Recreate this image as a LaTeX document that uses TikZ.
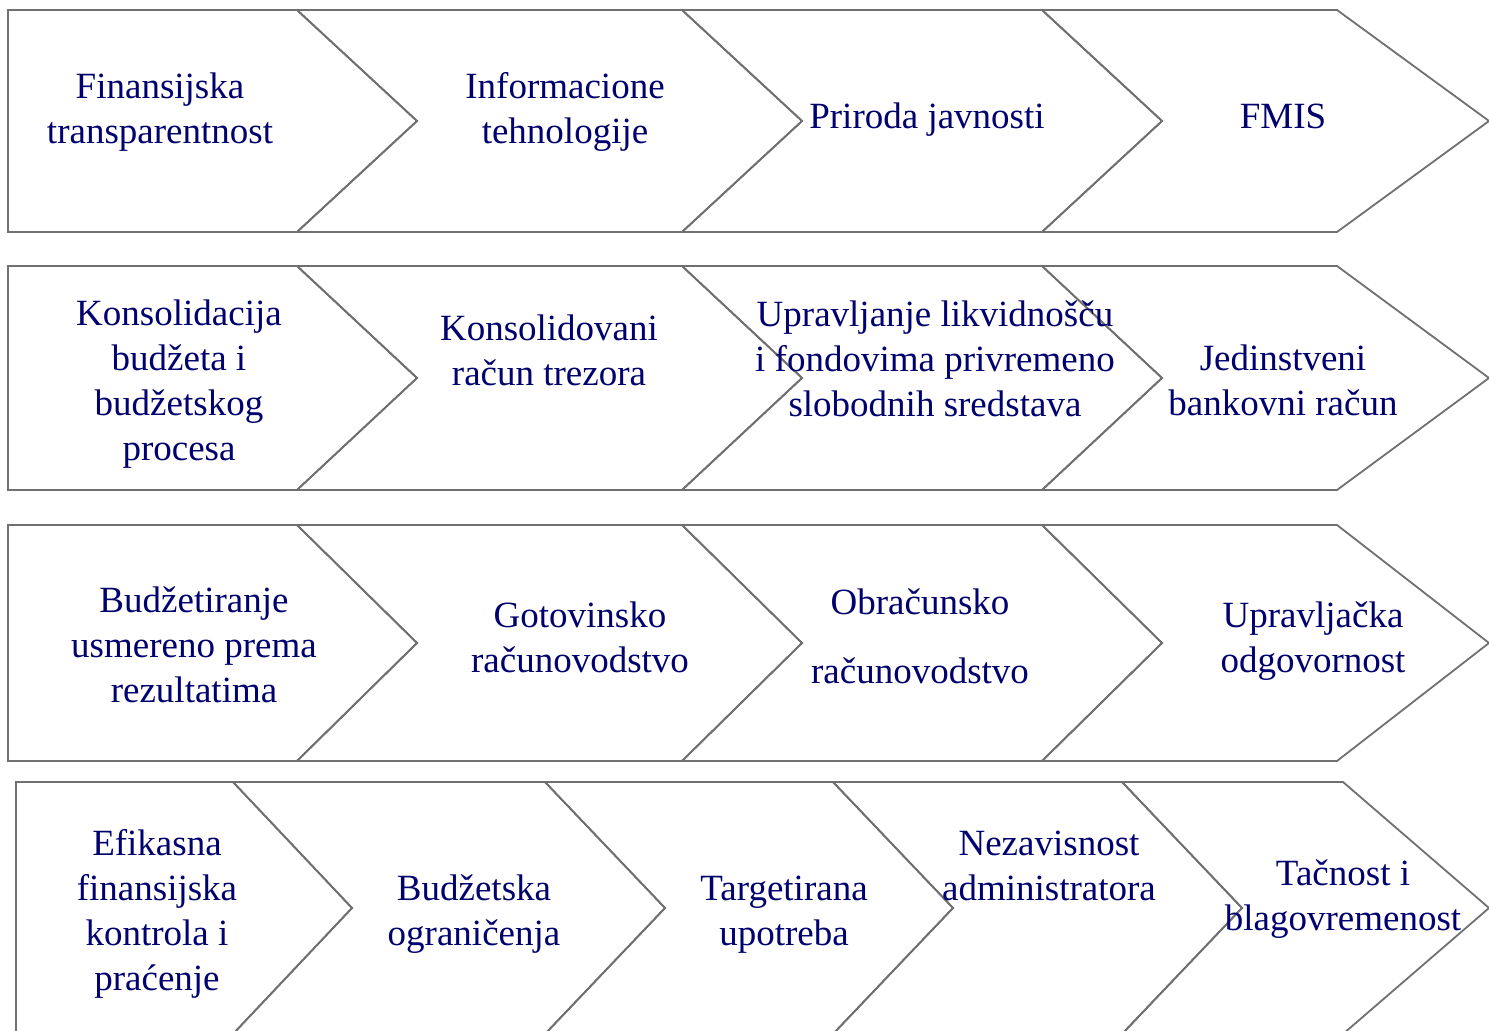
\documentclass[tikz,border=0pt]{standalone}
\usepackage{fontspec}
\setmainfont{Liberation Serif}
\definecolor{navy}{RGB}{0,0,110}
\definecolor{linegray}{RGB}{112,112,112}
\tikzset{
  chev/.style={draw=linegray,line width=0.9pt,line join=miter},
  lbl/.style={text=navy,align=center,anchor=base,inner sep=0pt,
    font=\fontsize{18.5}{22.5}\selectfont}
}
\begin{document}
\begin{tikzpicture}[x=0.5pt,y=-0.5pt]
      \useasboundingbox (0,0) rectangle (1489,1031);

      \draw[chev] (8,10) -- (297,10) -- (417,121) -- (297,232) -- (8,232) -- cycle;
      \draw[chev] (297,10) -- (682,10) -- (802,121) -- (682,232) -- (297,232) -- (417,121) -- cycle;
      \draw[chev] (682,10) -- (1042,10) -- (1162,121) -- (1042,232) -- (682,232) -- (802,121) -- cycle;
      \draw[chev] (1042,10) -- (1337,10) -- (1489,121) -- (1337,232) -- (1042,232) -- (1162,121) -- cycle;

      \draw[chev] (8,266) -- (297,266) -- (417,378) -- (297,490) -- (8,490) -- cycle;
      \draw[chev] (297,266) -- (682,266) -- (802,378) -- (682,490) -- (297,490) -- (417,378) -- cycle;
      \draw[chev] (682,266) -- (1042,266) -- (1162,378) -- (1042,490) -- (682,490) -- (802,378) -- cycle;
      \draw[chev] (1042,266) -- (1337,266) -- (1489,378) -- (1337,490) -- (1042,490) -- (1162,378) -- cycle;

      \draw[chev] (8,525) -- (297,525) -- (417,643) -- (297,761) -- (8,761) -- cycle;
      \draw[chev] (297,525) -- (682,525) -- (802,643) -- (682,761) -- (297,761) -- (417,643) -- cycle;
      \draw[chev] (682,525) -- (1042,525) -- (1162,643) -- (1042,761) -- (682,761) -- (802,643) -- cycle;
      \draw[chev] (1042,525) -- (1337,525) -- (1489,643) -- (1337,761) -- (1042,761) -- (1162,643) -- cycle;

      \draw[chev] (16,782) -- (233,782) -- (352,908) -- (233,1034) -- (16,1034) -- cycle;
      \draw[chev] (233,782) -- (545,782) -- (665,908) -- (545,1034) -- (233,1034) -- (352,908) -- cycle;
      \draw[chev] (545,782) -- (833,782) -- (953,908) -- (833,1034) -- (545,1034) -- (665,908) -- cycle;
      \draw[chev] (833,782) -- (1122,782) -- (1242,908) -- (1122,1034) -- (833,1034) -- (953,908) -- cycle;
      \draw[chev] (1122,782) -- (1343,782) -- (1489,908) -- (1343,1034) -- (1122,1034) -- (1242,908) -- cycle;

      \node[lbl] (fintrans) at (160,144) {Finansijska\\transparentnost};
      \node[lbl] (infteh) at (565,144) {Informacione\\tehnologije};
      \node[lbl] (priroda) at (927,129) {Priroda javnosti};
      \node[lbl] (fmis) at (1283,129) {FMIS};

      \node[lbl] (konsbud) at (179,461) {Konsolidacija\\budžeta i\\budžetskog\\procesa};
      \node[lbl] (konsracun) at (549,386) {Konsolidovani\\račun trezora};
      \node[lbl] (upravlik) at (935,417) {Upravljanje likvidnošču\\i fondovima privremeno\\slobodnih sredstava};
      \node[lbl] (jbr) at (1283,416) {Jedinstveni\\bankovni račun};

      \node[lbl] (budrez) at (194,703) {Budžetiranje\\usmereno prema\\rezultatima};
      \node[lbl] (gotov) at (580,673) {Gotovinsko\\računovodstvo};
      \node[lbl] (obrac) at (920,683) {Obračunsko\\[12pt]računovodstvo};
      \node[lbl] (upravodg) at (1313,673) {Upravljačka\\odgovornost};

      \node[lbl] (efik) at (157,990) {Efikasna\\finansijska\\kontrola i\\praćenje};
      \node[lbl] (budogr) at (474,945) {Budžetska\\ograničenja};
      \node[lbl] (target) at (784,945) {Targetirana\\upotreba};
      \node[lbl] (nezav) at (1049,900) {Nezavisnost\\administratora};
      \node[lbl] (tacnost) at (1343,930) {Tačnost i\\blagovremenost};
\end{tikzpicture}
\end{document}
